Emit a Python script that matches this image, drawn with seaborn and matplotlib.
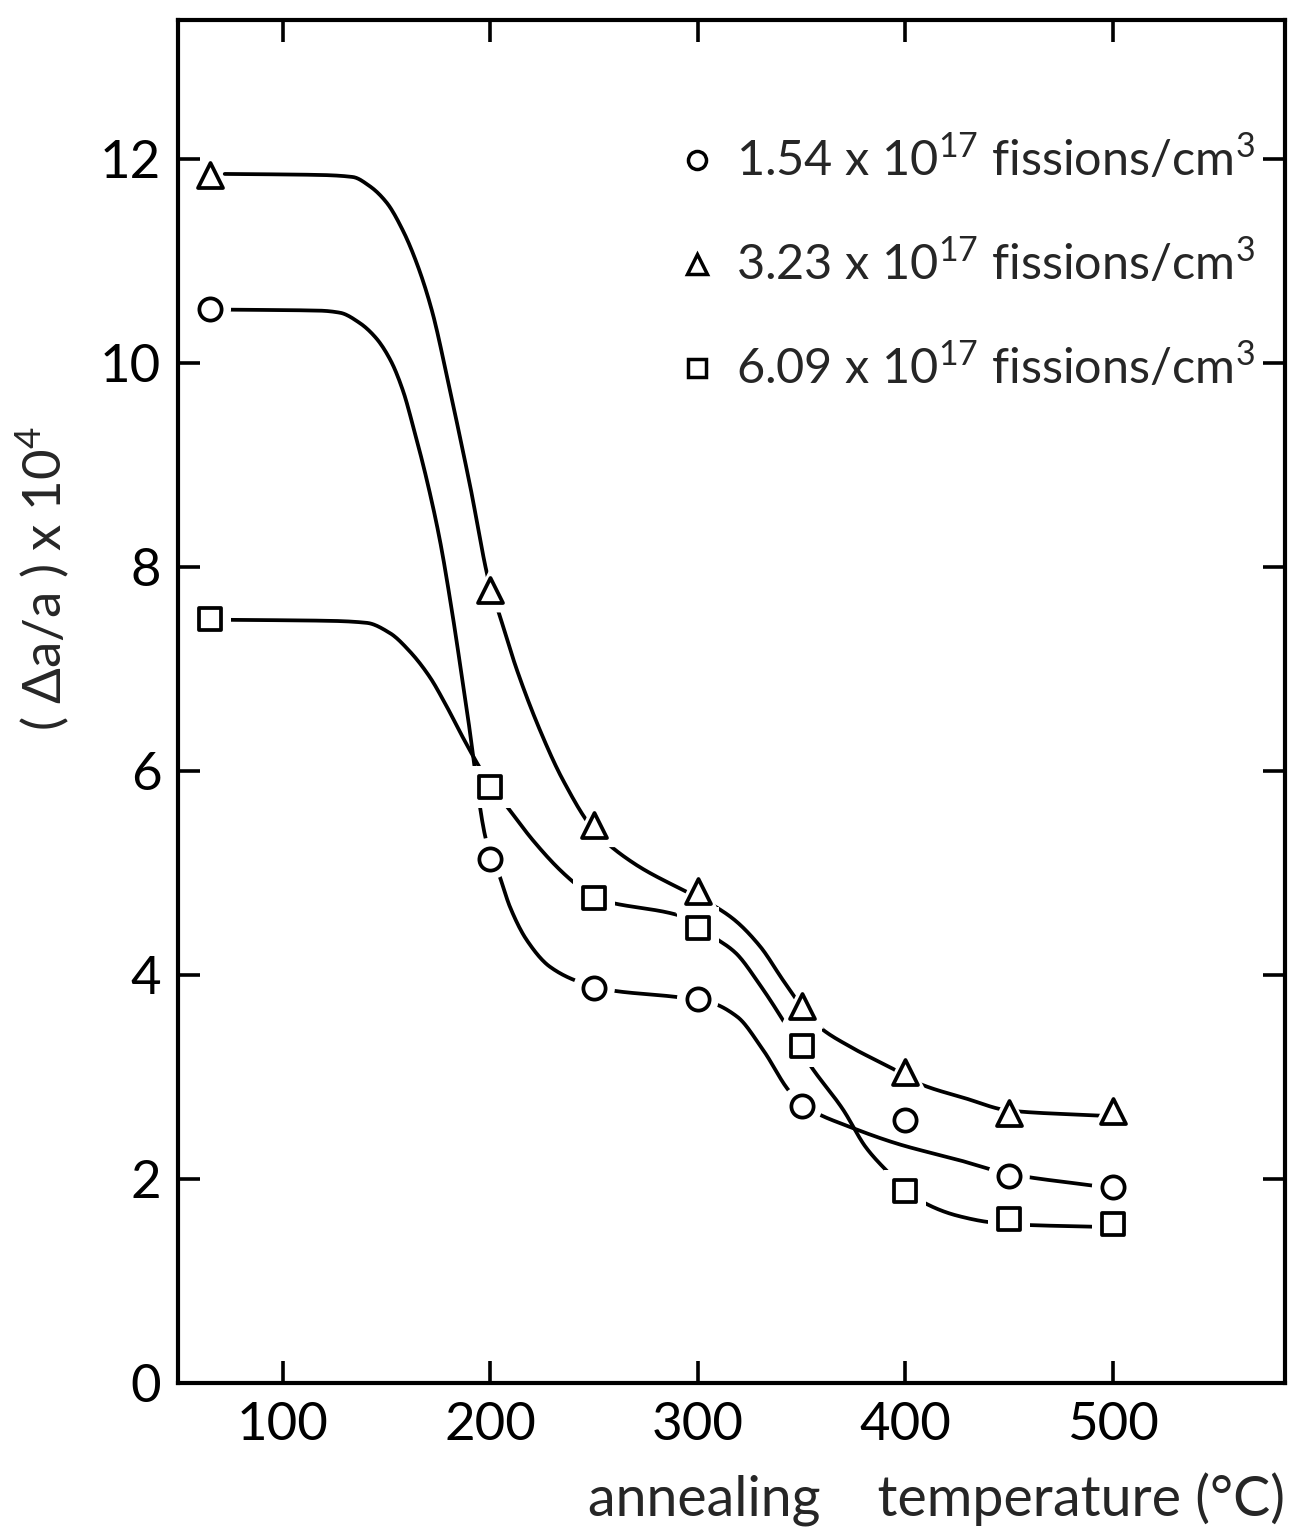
import numpy as np
import pandas as pd
import matplotlib
matplotlib.use("Agg")
import matplotlib.pyplot as plt
from matplotlib.lines import Line2D
import seaborn as sns

# measured points (annealing temperature in °C, (Δa/a) x 10^4)
temps = [65, 200, 250, 300, 350, 400, 450, 500]
y_154 = [10.53, 5.14, 3.87, 3.76, 2.71, 2.58, 2.03, 1.92]
y_323 = [11.84, 7.77, 5.47, 4.82, 3.69, 3.05, 2.65, 2.67]
y_609 = [7.49, 5.84, 4.75, 4.46, 3.30, 1.88, 1.61, 1.56]

labels = ["1.54 x 10$^{17}$ fissions/cm$^{3}$",
          "3.23 x 10$^{17}$ fissions/cm$^{3}$",
          "6.09 x 10$^{17}$ fissions/cm$^{3}$"]

# hand-drawn guide curves
cx_154 = [72, 118, 127.5, 137, 145, 152, 158, 163, 169.4, 175.7, 181.4, 189, 198,
          204.6, 209.4, 217.6, 228.7, 243, 257.6, 291, 306, 319, 331.6, 345, 356, 372,
          397, 425, 450, 492]
cy_154 = [10.52, 10.51, 10.49, 10.39, 10.24, 10.02, 9.72, 9.36, 8.85, 8.26, 7.58, 6.55,
          5.32, 4.96, 4.67, 4.34, 4.08, 3.93, 3.85, 3.78, 3.73, 3.59, 3.26, 2.84, 2.66,
          2.52, 2.34, 2.19, 2.05, 1.93]
cx_323 = [72, 118, 133.7, 141.9, 150, 158, 165, 172, 180, 190, 200, 203.6, 212.8, 223.9,
          235, 250, 268.7, 291, 304, 317, 330, 341, 350, 358, 374, 394, 406, 429, 450, 494]
cy_323 = [11.85, 11.84, 11.82, 11.73, 11.57, 11.29, 10.95, 10.50, 9.78, 8.82, 7.80, 7.58,
          6.99, 6.40, 5.91, 5.42, 5.10, 4.85, 4.72, 4.55, 4.28, 3.95, 3.69, 3.50, 3.29,
          3.08, 2.94, 2.79, 2.67, 2.62]
cx_609 = [72, 122.7, 140.5, 151.6, 161.2, 170.8, 179, 186.7, 193.5, 201, 208, 220.5,
          233.5, 243, 250.4, 257.6, 293, 307, 318, 330, 344, 354, 370, 381, 392, 400, 407,
          425, 443, 457, 494]
cy_609 = [7.48, 7.47, 7.45, 7.35, 7.17, 6.92, 6.63, 6.33, 6.08, 5.83, 5.65, 5.32,
          5.03, 4.86, 4.75, 4.71, 4.57, 4.38, 4.22, 3.90, 3.46, 3.12, 2.68, 2.31, 2.06,
          1.90, 1.79, 1.64, 1.57, 1.55, 1.53]


def pchip(x, y, xs):
    # monotone cubic, just to draw the guide curves smoothly
    x = np.asarray(x, float)
    y = np.asarray(y, float)
    h = np.diff(x)
    d = np.diff(y) / h
    m = np.zeros_like(y)
    for k in range(1, len(x) - 1):
        if d[k - 1] * d[k] > 0:
            w1 = 2 * h[k] + h[k - 1]
            w2 = h[k] + 2 * h[k - 1]
            m[k] = (w1 + w2) / (w1 / d[k - 1] + w2 / d[k])
    m[0] = d[0]
    m[-1] = d[-1]
    i = np.clip(np.searchsorted(x, xs) - 1, 0, len(h) - 1)
    t = (xs - x[i]) / h[i]
    h00 = 2 * t**3 - 3 * t**2 + 1
    h10 = t**3 - 2 * t**2 + t
    h01 = -2 * t**3 + 3 * t**2
    h11 = t**3 - t**2
    return h00 * y[i] + h10 * h[i] * m[i] + h01 * y[i + 1] + h11 * h[i] * m[i + 1]


sns.set_theme(style="ticks")
plt.rcParams["font.family"] = ["Lato", "DejaVu Sans"]
plt.rcParams["mathtext.fontset"] = "custom"
plt.rcParams["mathtext.rm"] = "Lato"

fig = plt.figure(figsize=(12.94, 15.29), dpi=100)
ax = fig.add_axes([0.1376, 0.0955, 0.8554, 0.8915])

series = [
    (temps, y_154, cx_154, cy_154, "o", 16),
    (temps, y_323, cx_323, cy_323, "^", 18),
    (temps, y_609, cx_609, cy_609, "s", 16),
]

for tx, ty, kx, ky, mk, ms in series:
    xs = np.linspace(kx[0], kx[-1], 800)
    curve = pd.DataFrame({"T": xs, "v": pchip(kx, ky, xs)})
    sns.lineplot(data=curve, x="T", y="v", ax=ax, color="black", lw=2.7,
                 estimator=None, sort=False, zorder=2)
    pts = pd.DataFrame({"T": tx, "v": ty})
    # white halo so the curve stops short of each symbol
    sns.scatterplot(data=pts, x="T", y="v", ax=ax, marker=mk, s=(ms + 14) ** 2,
                    color="white", edgecolor="none", linewidth=0, zorder=3)
    sns.scatterplot(data=pts, x="T", y="v", ax=ax, marker=mk, s=ms ** 2,
                    facecolor="white", edgecolor="black", linewidth=2.7, zorder=4)

ax.set_xlim(49.5, 583)
ax.set_ylim(0, 13.36)
ax.set_xticks([100, 200, 300, 400, 500])
ax.set_yticks([0, 2, 4, 6, 8, 10, 12])
ax.tick_params(axis="both", direction="in", length=16, width=2.6, labelsize=38,
               top=True, right=True, colors="black")
ax.tick_params(axis="x", pad=14)
ax.tick_params(axis="y", pad=12)
for sp in ax.spines.values():
    sp.set_linewidth(3)
    sp.set_color("black")

ax.set_xlabel("annealing    temperature (°C)", fontsize=40)
ax.xaxis.set_label_coords(1.0, -0.066)
ax.xaxis.label.set_ha("right")
ax.set_ylabel("( Δa/a ) x 10$^{4}$", fontsize=38)
ax.yaxis.set_label_coords(-0.096, 0.59)

handles = [Line2D([], [], ls="none", marker=m, markersize=s, markerfacecolor="white",
                  markeredgecolor="black", markeredgewidth=2.5)
           for m, s in [("o", 13), ("^", 14), ("s", 13)]]
ax.legend(handles, labels, loc="upper right", bbox_to_anchor=(0.973, 0.916),
          frameon=False, fontsize=35, handletextpad=0.4, labelspacing=1.1,
          handlelength=0.8, borderpad=0, borderaxespad=0)

fig.savefig("out.png", dpi=100)
